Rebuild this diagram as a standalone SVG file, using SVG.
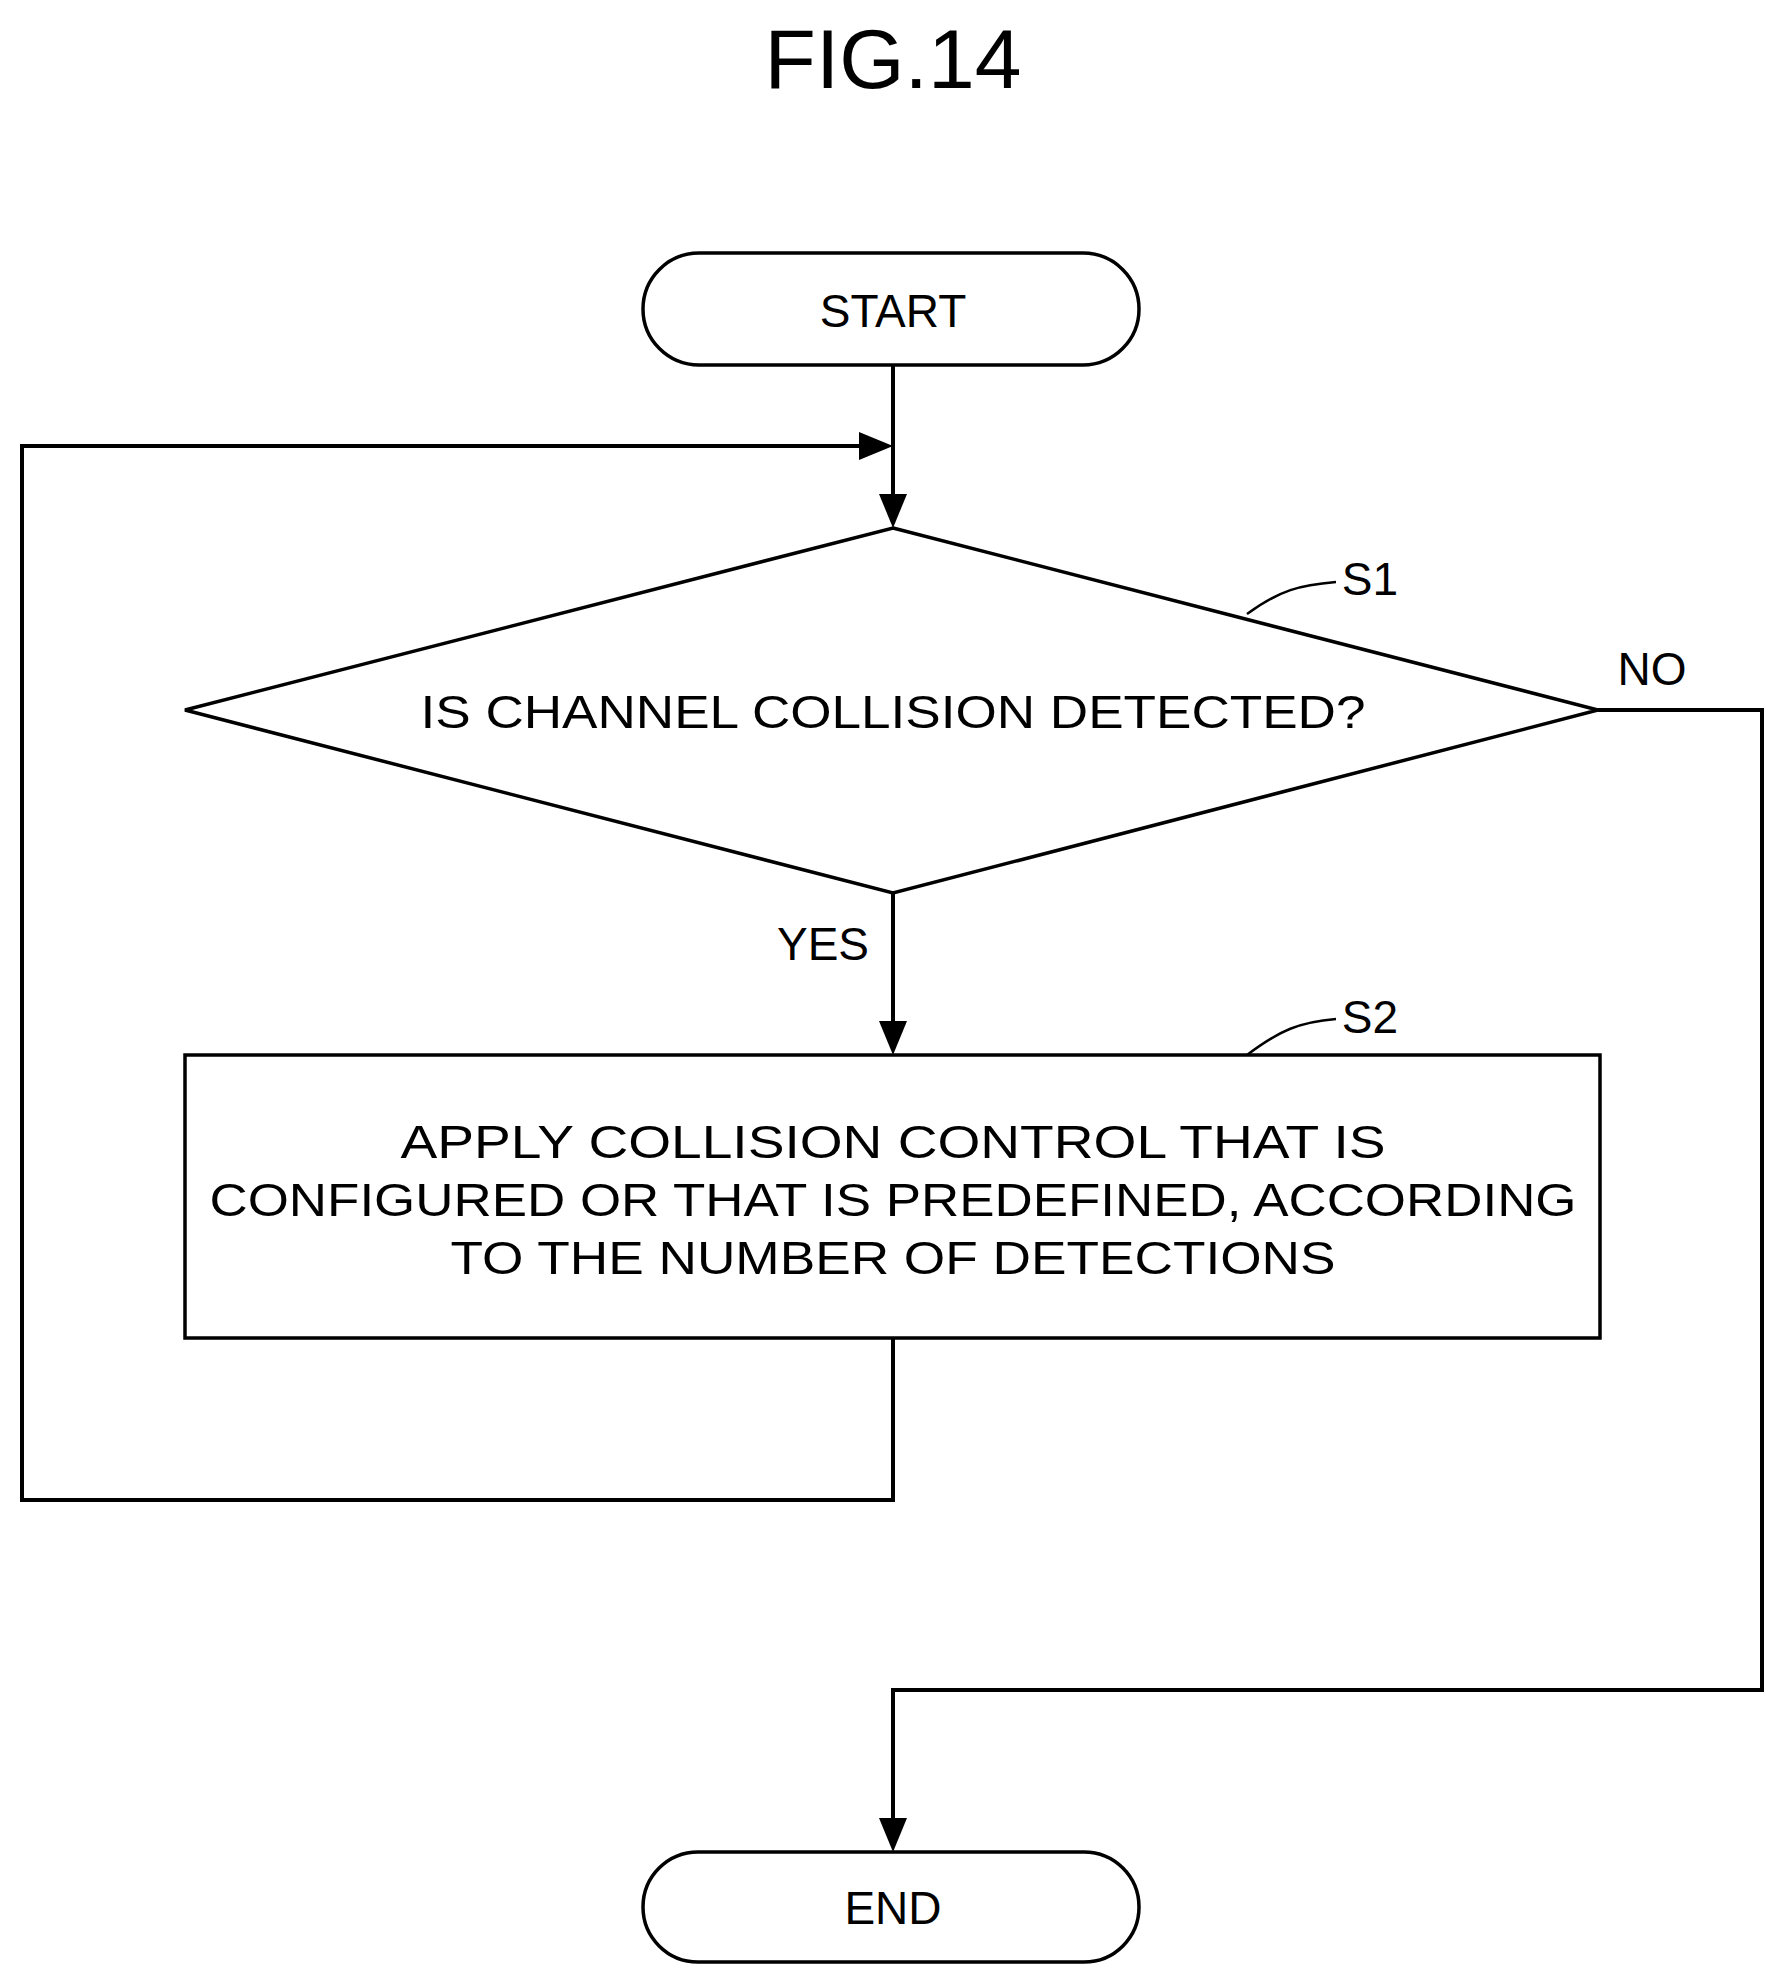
<svg xmlns="http://www.w3.org/2000/svg" width="1785" height="1985" viewBox="0 0 1785 1985">
<defs>
<style>
.s{fill:#fff;stroke:#000;stroke-width:3.5}
.c{fill:none;stroke:#000;stroke-width:4}
.t{font-family:"Liberation Sans",Arial,sans-serif;font-size:46px;fill:#000;text-anchor:middle}
</style>
</defs>
<rect width="1785" height="1985" fill="#fff"/>
<text x="893" y="88" class="t" style="font-size:84px">FIG.14</text>
<g id="connectors">
<path class="c" d="M893,365 V500"/>
<path class="c" d="M893,893 V1025"/>
<path class="c" d="M1598,710 H1762 V1690 H893 V1822"/>
<path class="c" d="M893,1338 V1500 H22 V446 H865"/>
<path class="c" d="M1247,614 C1280,590 1300,585 1336,582" style="stroke-width:2.5"/>
<path class="c" d="M1247,1055 C1280,1030 1300,1022 1336,1019" style="stroke-width:2.5"/>
<path d="M893,528 l-14,-34 h28 z"/>
<path d="M893,1055 l-14,-34 h28 z"/>
<path d="M893,1852 l-14,-34 h28 z"/>
<path d="M893,446 l-34,-14 v28 z"/>
</g>
<g id="start"><rect class="s" x="643" y="253" width="496" height="112" rx="56"/><text class="t" x="893" y="327">START</text></g>
<g id="s1"><polygon class="s" points="893,528 1598,710 893,893 185,710"/><text class="t" x="893" y="728" textLength="945" lengthAdjust="spacingAndGlyphs">IS CHANNEL COLLISION DETECTED?</text><text class="t" x="1370" y="595">S1</text></g>
<text class="t" x="1652" y="685">NO</text>
<text class="t" x="823" y="960">YES</text>
<g id="s2"><rect class="s" x="185" y="1055" width="1415" height="283"/>
<text class="t" x="893" y="1158" textLength="985" lengthAdjust="spacingAndGlyphs">APPLY COLLISION CONTROL THAT IS</text>
<text class="t" x="893" y="1216" textLength="1367" lengthAdjust="spacingAndGlyphs">CONFIGURED OR THAT IS PREDEFINED, ACCORDING</text>
<text class="t" x="893" y="1274" textLength="885" lengthAdjust="spacingAndGlyphs">TO THE NUMBER OF DETECTIONS</text>
<text class="t" x="1370" y="1033">S2</text></g>
<g id="end"><rect class="s" x="643" y="1852" width="496" height="110" rx="55"/><text class="t" x="893" y="1924">END</text></g>
</svg>
